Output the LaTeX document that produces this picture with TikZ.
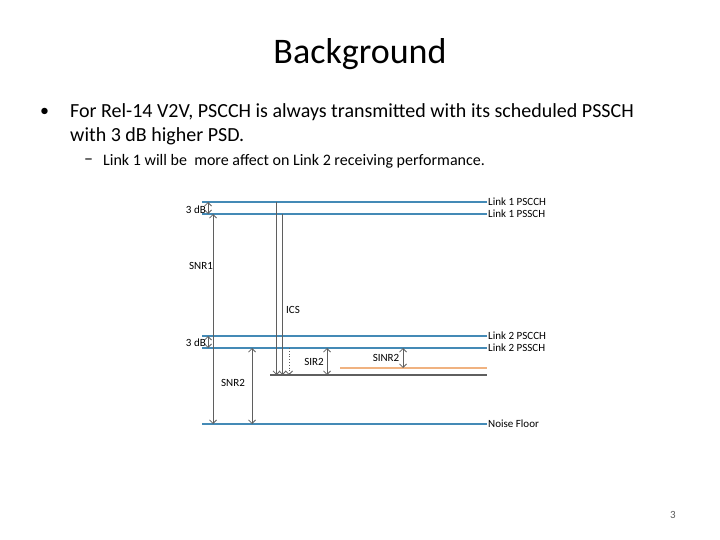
\documentclass[tikz,border=0pt]{standalone}
\usepackage{fontspec}
\setmainfont{Carlito}
\usetikzlibrary{arrows.meta}
\definecolor{lineblue}{RGB}{68,138,182}
\definecolor{lineorange}{RGB}{240,178,128}
\definecolor{arrgray}{RGB}{95,95,95}
\definecolor{pagegray}{RGB}{90,90,90}
\tikzset{
  level/.style={draw=lineblue, line width=1.1pt},
  intlevel/.style={draw=arrgray, line width=1.1pt},
  orlevel/.style={draw=lineorange, line width=2.2pt},
  meas/.style={draw=arrgray, line width=0.8pt, {Straight Barb[length=3.5pt,width=7pt]}-{Straight Barb[length=3.5pt,width=7pt]}},
  down/.style={draw=arrgray, line width=0.8pt, -{Straight Barb[length=3.5pt,width=7pt]}},
  lab/.style={anchor=west, inner sep=1pt, font=\fontsize{11}{13}\selectfont},
  dlab/.style={inner sep=0pt, font=\fontsize{11}{13}\selectfont}
}
\begin{document}
\begin{tikzpicture}[x=1pt,y=-1pt]
\useasboundingbox (0,0) rectangle (720,540);
% title and text
\node (title) at (360,54) {\fontsize{36}{42}\selectfont Background};
\node[anchor=west, inner sep=0pt] (bul) at (40,112) {\fontsize{18}{22}\selectfont •};
\node[anchor=west, inner sep=0pt] (txt1) at (70,112) {\fontsize{20}{24}\selectfont For Rel-14 V2V, PSCCH is always transmitted with its scheduled PSSCH};
\node[anchor=west, inner sep=0pt] (txt2) at (70,136) {\fontsize{20}{24}\selectfont with 3 dB higher PSD.};
\node[anchor=west, inner sep=0pt] (dash) at (84,162) {\fontsize{18}{20}\selectfont –};
\node[anchor=west, inner sep=0pt] (txt3) at (103,161) {\fontsize{16}{18}\selectfont Link 1 will be\ \ more affect on Link 2 receiving performance.};
\node[text=pagegray] (page) at (673,515) {\fontsize{11}{13}\selectfont 3};
% level labels
\node[lab] (L1c) at (487,202) {Link 1 PSCCH};
\node[lab] (L1s) at (487,214) {Link 1 PSSCH};
\node[lab] (L2c) at (487,336) {Link 2 PSCCH};
\node[lab] (L2s) at (487,348) {Link 2 PSSCH};
\node[lab] (NF) at (487,424) {Noise Floor};
% level lines
\coordinate (a1) at (202,202);
\coordinate (a2) at (202,214);
\coordinate (a3) at (202,336);
\coordinate (a4) at (202,348);
\coordinate (a5) at (202,424);
\draw[level] (a1) -- (L1c.west);
\draw[level] (a2) -- (L1s.west);
\draw[level] (a3) -- (L2c.west);
\draw[level] (a4) -- (L2s.west);
\draw[level] (a5) -- (NF.west);
% interference level and SINR level
\coordinate (i1) at (270,375);
\coordinate (i2) at (487,375);
\draw[intlevel] (i1) -- (i2);
\coordinate (o1) at (340,368);
\coordinate (o2) at (487,368);
\draw[orlevel] (o1) -- (o2);
% 3 dB (link 1)
\coordinate (d1t) at (208,202);
\coordinate (d1b) at (208,214);
\draw[meas] (d1t) -- (d1b);
\node[dlab, anchor=east] (db1) at (206,210) {3 dB};
% SNR1
\coordinate (s1t) at (213,214);
\coordinate (s1b) at (213,424);
\draw[meas] (s1t) -- (s1b);
\node[dlab] (snr1) at (201,266) {SNR1};
% 3 dB (link 2)
\coordinate (d2t) at (208,336);
\coordinate (d2b) at (208,348);
\draw[meas] (d2t) -- (d2b);
\node[dlab, anchor=east] (db2) at (206,343) {3 dB};
% SNR2
\coordinate (s2t) at (252,348);
\coordinate (s2b) at (252,424);
\draw[meas] (s2t) -- (s2b);
\node[dlab] (snr2) at (233,383) {SNR2};
% ICS
\coordinate (c1t) at (276.5,202);
\coordinate (c1b) at (276.5,375);
\coordinate (c2t) at (282.5,214);
\coordinate (c2b) at (282.5,375);
\coordinate (c3t) at (289,348);
\coordinate (c3b) at (289,375);
\draw[down] (c1t) -- (c1b);
\draw[down] (c2t) -- (c2b);
\draw[down, dotted] (c3t) -- (c3b);
\node[dlab] (ics) at (293,310) {ICS};
% SIR2
\coordinate (r2t) at (327,348);
\coordinate (r2b) at (327,375);
\draw[meas] (r2t) -- (r2b);
\node[dlab] (sir2) at (314,362) {SIR2};
% SINR2
\coordinate (n2t) at (403,348);
\coordinate (n2b) at (403,368);
\draw[meas] (n2t) -- (n2b);
\node[dlab] (sinr2) at (386,358) {SINR2};
\end{tikzpicture}
\end{document}
